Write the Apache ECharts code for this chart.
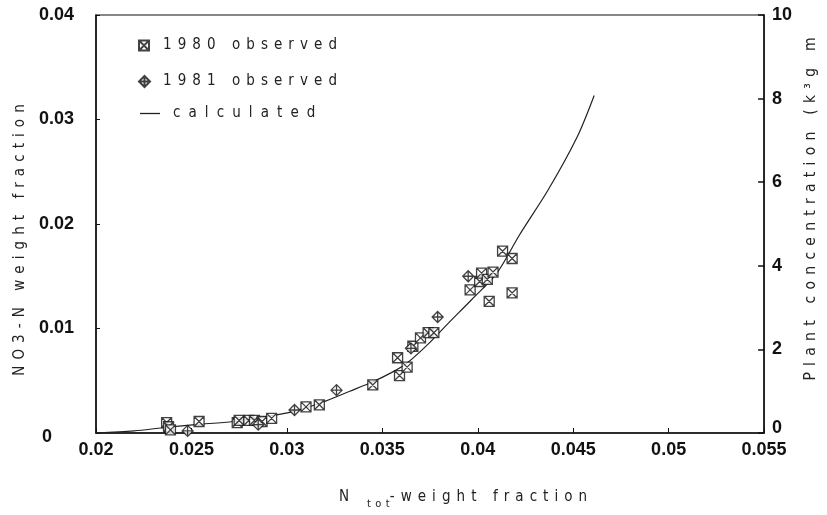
<!DOCTYPE html>
<html>
<head>
<meta charset="utf-8">
<title>NO3-N vs Ntot weight fraction</title>
<script src="https://cdn.jsdelivr.net/npm/echarts@6/dist/echarts.min.js"></script>
<style>
  html, body { margin: 0; padding: 0; background: #fff; }
  #chart { width: 827px; height: 515px; }
</style>
</head>
<body>
<div id="chart"></div>
<script>
// Tick values for the three axes
const xTicks = [0.02, 0.025, 0.03, 0.035, 0.04, 0.045, 0.05, 0.055];
const yLeftTicks = [0, 0.01, 0.02, 0.03, 0.04];
const yRightTicks = [0, 2, 4, 6, 8, 10];

// 1980 field observations: [Ntot weight fraction, NO3-N weight fraction]
const obs1980 = [
  [0.0237, 0.0010], [0.0238, 0.0006], [0.0239, 0.0003], [0.0254, 0.0011],
  [0.0274, 0.0010], [0.0275, 0.0012], [0.0280, 0.0012], [0.0283, 0.0012],
  [0.0287, 0.0011], [0.0292, 0.0014], [0.0310, 0.0025], [0.0317, 0.0027],
  [0.0345, 0.0046], [0.0358, 0.0072], [0.0359, 0.0055], [0.0363, 0.0063],
  [0.0366, 0.0083], [0.0370, 0.0091], [0.0374, 0.0096], [0.0377, 0.0096],
  [0.0396, 0.0137], [0.0401, 0.0145], [0.0402, 0.0153], [0.0405, 0.0147],
  [0.0408, 0.0154], [0.0406, 0.0126], [0.0413, 0.0174], [0.0418, 0.0167],
  [0.0418, 0.0134]
];

// 1981 field observations
const obs1981 = [
  [0.0248, 0.0002], [0.0285, 0.0008], [0.0304, 0.0022], [0.0326, 0.0041],
  [0.0365, 0.0081], [0.0379, 0.0111], [0.0395, 0.0150]
];

// Model curve
const calculated = [
  [0.0200, 0.0000], [0.0220, 0.0002], [0.0235, 0.0005], [0.0252, 0.0008],
  [0.0272, 0.0011], [0.0290, 0.0016], [0.0302, 0.0020], [0.0318, 0.0029],
  [0.0333, 0.0040], [0.0345, 0.0049], [0.0355, 0.0058], [0.0363, 0.0067],
  [0.0374, 0.0085], [0.0384, 0.0104], [0.0397, 0.0128], [0.0410, 0.0153],
  [0.0422, 0.0190], [0.0437, 0.0233], [0.0452, 0.0283], [0.0461, 0.0323]
];

const thinFont = '"Liberation Sans Narrow", "DejaVu Sans Condensed", "Liberation Sans", sans-serif';
const boldFont = '"Liberation Sans", Arial, sans-serif';
// letter-spaced captions
const spaced = s => s.split('').join('\u2005\u2009');
const wideSpaced = s => s.split('').join('\u2002\u200A');
const step = a => Math.round((a[1] - a[0]) * 1e6) / 1e6;
const fmt = v => String(Math.round(v * 1000) / 1000);

const squareX = 'path://M0,0H10V10H0Z M0,0L10,10 M10,0L0,10';
const diamondPlus = 'path://M5,0L10,5L5,10L0,5Z M5,0V10 M0,5H10';

const tickLabel = { fontFamily: boldFont, fontWeight: 'bold', fontSize: 18, color: '#111' };
const captionStyle = { fontFamily: thinFont, fontSize: 15, color: '#222' };

const chart = echarts.init(document.getElementById('chart'), null, { renderer: 'canvas' });

chart.setOption({
  backgroundColor: '#fff',
  animation: false,
  grid: {
    left: 96, right: 62, top: 15, bottom: 82,
    show: true, borderColor: '#111', borderWidth: 1.2, backgroundColor: 'transparent'
  },
  legend: [
    {
      data: ['1980 observed'], left: 133, top: 33, itemWidth: 10, itemHeight: 10, itemGap: 0,
      formatter: spaced, textStyle: Object.assign({ padding: [0, 0, 0, 9] }, captionStyle)
    },
    {
      data: ['1981 observed'], left: 133, top: 69, itemWidth: 11, itemHeight: 11, itemGap: 0,
      formatter: spaced, textStyle: Object.assign({ padding: [0, 0, 0, 8] }, captionStyle)
    },
    {
      data: [{ name: 'calculated', icon: 'rect' }], left: 135, top: 101,
      itemWidth: 20, itemHeight: 1.3,
      formatter: wideSpaced, textStyle: Object.assign({ padding: [0, 0, 0, 8] }, captionStyle)
    }
  ],
  xAxis: {
    type: 'value',
    min: xTicks[0], max: xTicks[xTicks.length - 1], interval: step(xTicks),
    axisLine: { show: true, lineStyle: { color: '#111', width: 1.5 } },
    axisTick: { show: true, inside: true, length: 5, lineStyle: { color: '#111' } },
    splitLine: { show: false },
    axisLabel: Object.assign({ margin: 8, formatter: fmt }, tickLabel),
    name: '{n|N}{s|' + spaced('tot') + '}{n|' + spaced('-weight fraction') + '}',
    nameLocation: 'middle', nameGap: 52,
    nameTextStyle: {
      fontFamily: thinFont, fontSize: 15, color: '#222', padding: [0, 0, 0, 66],
      rich: {
        n: captionStyle,
        s: { fontFamily: thinFont, fontSize: 11, color: '#222', padding: [14, 0, 0, 18] }
      }
    }
  },
  yAxis: [
    {
      type: 'value',
      min: yLeftTicks[0], max: yLeftTicks[yLeftTicks.length - 1], interval: step(yLeftTicks),
      axisLine: { show: true, lineStyle: { color: '#111', width: 1.5 } },
      axisTick: { show: true, inside: true, length: 4, lineStyle: { color: '#111' } },
      splitLine: { show: false },
      axisLabel: Object.assign({
        margin: 22,
        formatter: v => v === 0 ? '{z|0}' : fmt(v),
        rich: { z: { fontFamily: boldFont, fontWeight: 'bold', fontSize: 18, color: '#111', padding: [9, 22, 0, 0] } }
      }, tickLabel),
      name: spaced('NO3-N weight fraction'),
      nameLocation: 'middle', nameGap: 66, nameRotate: 90,
      nameTextStyle: Object.assign({ padding: [0, 32, 0, 0] }, captionStyle)
    },
    {
      type: 'value', position: 'right',
      min: yRightTicks[0], max: yRightTicks[yRightTicks.length - 1], interval: step(yRightTicks),
      axisLine: { show: true, lineStyle: { color: '#111', width: 1.5 } },
      axisTick: { show: true, inside: true, length: 6, lineStyle: { color: '#111', width: 1.5 } },
      splitLine: { show: false },
      axisLabel: Object.assign({
        margin: 8,
        formatter: v => v === 0 ? '{z|0}' : String(v),
        rich: { z: { fontFamily: boldFont, fontWeight: 'bold', fontSize: 18, color: '#111', padding: [0, 0, 10, 0] } }
      }, tickLabel),
      name: spaced('Plant concentration (k³g m'),
      nameLocation: 'middle', nameGap: 38, nameRotate: 90,
      nameTextStyle: Object.assign({ padding: [0, 0, 0, 30] }, captionStyle, { fontSize: 15.5 })
    }
  ],
  series: [
    {
      name: 'calculated', type: 'line', data: calculated,
      smooth: 0.3, symbol: 'none', z: 1,
      lineStyle: { color: '#222', width: 1.2 },
      itemStyle: { color: '#222' }
    },
    {
      name: '1980 observed', type: 'scatter', data: obs1980,
      symbol: squareX, symbolSize: 10, z: 3,
      itemStyle: { color: '#fff', borderColor: '#111', borderWidth: 1.3 }
    },
    {
      name: '1981 observed', type: 'scatter', data: obs1981,
      symbol: diamondPlus, symbolSize: 11, z: 3,
      itemStyle: { color: '#fff', borderColor: '#111', borderWidth: 1.3 }
    }
  ]
});
</script>
</body>
</html>
